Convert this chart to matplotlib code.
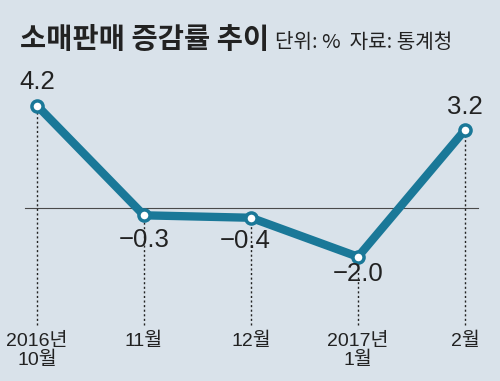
import numpy as np
import matplotlib.pyplot as plt

months = ["2016년\n10월", "11월", "12월", "2017년\n1월", "2월"]
values = [4.2, -0.3, -0.4, -2.0, 3.2]
labels = ["4.2", "−0.3", "−0.4", "−2.0", "3.2"]

BG = "#d9e2ea"
LINE = "#1a7898"
FONT = ["Liberation Sans", "Noto Sans CJK KR", "DejaVu Sans"]
plt.rcParams["font.family"] = FONT

fig = plt.figure(figsize=(5.0, 3.81), dpi=100, facecolor=BG)
ax = fig.add_axes([0, 0, 1, 1], facecolor=BG)

# pixel layout: x 37..465 step 107, zero at y=208px, 24.4 px per unit
px_unit = 24.4
ax.set_xlim(-37 / 107, (500 - 37) / 107)
ax.set_ylim(-(381 - 208) / px_unit, 208 / px_unit)
ax.axis("off")

x = np.arange(len(values))
y_bot = -(325 - 208) / px_unit

ax.plot([-12 / 107, (478 - 37) / 107], [0, 0], color="#4a4a4a", lw=0.8, zorder=1)
for xi, vi in zip(x, values):
    ax.plot([xi, xi], [y_bot, vi], color="#222222", lw=1.0,
            linestyle=(0, (1.5, 1.8)), zorder=1)

ax.plot(x, values, color=LINE, lw=6, solid_capstyle="round", zorder=2)
ax.plot(x, values, "o", ms=8, mfc="white", mec=LINE, mew=2.5, zorder=3)

offsets = [(0, 24), (0, -25), (-6, -23), (0, -17), (0, 23)]
for xi, vi, lab, (dx, dy) in zip(x, values, labels, offsets):
    ax.text(xi + dx / 107, vi + dy / px_unit, lab, ha="center", va="center",
            fontsize=18.5, color="#222222")

for xi, m in zip(x, months):
    ax.text(xi, -(333 - 208) / px_unit, m, ha="center", va="top",
            fontsize=14, color="#222222", linespacing=1.1)

fig.text(20 / 500, 1 - 40 / 381, "소매판매 증감률 추이", fontsize=20.5,
         fontweight="bold", color="#222222", va="center", ha="left",
         family=["Noto Sans CJK KR"])
fig.text(275 / 500, 1 - 42 / 381, "단위: %  자료: 통계청", fontsize=14.5,
         color="#222222", va="center", ha="left", family=["Noto Sans CJK KR"])

fig.savefig("out.png", dpi=100, facecolor=BG)
